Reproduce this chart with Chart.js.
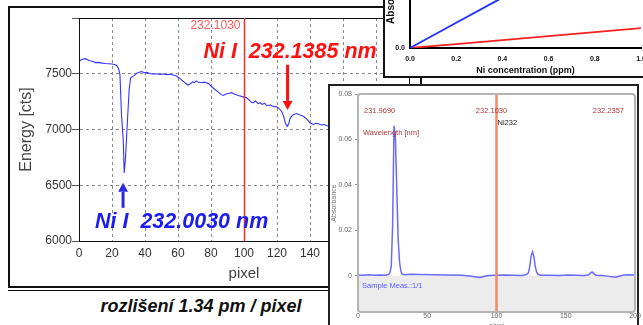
<!DOCTYPE html>
<html>
<head>
<meta charset="utf-8">
<script src="https://cdn.jsdelivr.net/npm/chart.js@4.4.1/dist/chart.umd.min.js"></script>
<style>
	body { margin: 0; width: 643px; height: 325px; overflow: hidden; position: relative; background: #fff; font-family: "Liberation Sans", Arial, sans-serif; }
	.box { position: absolute; box-sizing: border-box; }
	canvas { position: absolute; }
</style>
</head>
<body>
<div class="box" style="left:8px;top:6px;width:414px;height:282px;border:2px solid #111"></div>
<div class="box" style="left:8px;top:289.5px;width:414px;height:1.5px;background:#111"></div>
<canvas id="mainChart" width="420" height="280" style="left:9px;top:7px"></canvas>
<div style="position:absolute;left:0;top:297px;width:402px;text-align:center;font:italic bold 18px/18px 'Liberation Sans',Arial,sans-serif;color:#111">rozlišení 1.34 pm / pixel</div>
<div class="box" style="left:383px;top:-120px;width:270px;height:198px;background:#fff;border-left:2px solid #111;border-bottom:2px solid #111">
	<canvas id="calChart" width="268" height="196" style="left:0;top:0"></canvas>
</div>
<div class="box" style="left:328px;top:84px;width:311px;height:260px;background:#fff;border:2px solid #222">
	<canvas id="absChart" width="318" height="250" style="left:0;top:0"></canvas>
</div>
<script>
Chart.defaults.font.family = '"Liberation Sans", Arial, sans-serif';
Chart.defaults.animation = false;

// main spectrum: energy vs detector pixel
const pixels = [0, 2, 4, 6, 8, 10, 12, 14, 16, 18, 20, 22, 23, 24, 24.8, 25.8, 26.8, 27.4, 28.2, 29.4, 30.4, 31.3,
	33.5, 35, 36.5, 38, 39.5, 41, 43, 45, 47, 49, 51, 53, 55, 57, 59, 61, 63, 65, 66, 67, 69, 70, 71, 72, 74, 76,
	78.4, 80, 82.4, 84, 86, 87.5, 89, 91, 92.5, 94, 96.6, 99, 101.6, 103, 104.5, 105.6, 107, 108.5, 109.7, 111,
	112.5, 113.7, 116, 118, 119.8, 121.5, 122.8, 124, 125, 126.2, 127, 128, 128.9, 130, 131.9, 134, 135.9, 138,
	140, 142, 143.5, 145, 147, 148.5, 150, 153, 156, 160, 165, 170, 180, 190, 200];
const energy = [7613, 7630, 7635, 7618, 7612, 7600, 7602, 7595, 7592, 7590, 7588, 7580, 7572, 7545, 7494, 7120, 6910, 6611, 6748, 7090, 7359, 7464,
	7485, 7505, 7514, 7520, 7509, 7512, 7502, 7496, 7500, 7494, 7498, 7492, 7496, 7488, 7479, 7460, 7434, 7410, 7398, 7405, 7428, 7420, 7436, 7426, 7419, 7425,
	7413, 7390, 7359, 7340, 7315, 7305, 7318, 7325, 7330, 7318, 7305, 7295, 7284, 7265, 7245, 7240, 7255, 7232, 7240, 7225,
	7236, 7215, 7220, 7205, 7204, 7185, 7164, 7120, 7060, 7029, 7050, 7100, 7119, 7135, 7143, 7130, 7119, 7095,
	7060, 7045, 7055, 7051, 7040, 7045, 7036, 7020, 7000, 6990, 6970, 6950, 6920, 6890, 6870];
const pixelTicks = [0, 20, 40, 60, 80, 100, 120, 140, 160, 180, 200];
const energyTicks = [6000, 6500, 7000, 7500, 8000];
const markerPixel = 100;
const markerLabel = "232.1030";

// calibration inset
const concentration = [0, 0.2, 0.4, 0.6, 0.8, 1.0];
const absorbanceNi = [0, 0.095, 0.19, 0.285, 0.38, 0.475];
const absorbanceBlank = [0, 0.015, 0.03, 0.045, 0.06, 0.075];
const concTicks = [0, 0.2, 0.4, 0.6, 0.8, 1.0];

// absorbance spectrum inset
const absPixels = [0, 4, 8, 12, 16, 20, 22, 23, 24, 25, 26, 27, 28, 29, 30, 31, 32, 34, 38, 45, 55, 65, 75, 82, 88, 94,
	100, 106, 112, 118, 121, 123, 124, 125, 126, 127, 128, 129, 130, 132, 138, 145, 152, 158, 163, 166, 167, 168,
	169, 170, 171, 172, 176, 180, 186, 191, 195, 200];
const absValues = [0.0003, 0.0002, 0.0004, 0.0002, 0.0003, 0.0002, 0.0005, 0.0012, 0.004, 0.022, 0.066, 0.061, 0.038, 0.016, 0.006, 0.0018, 0.0006, 0.0004, 0.0006, 0.0005, 0.0004, 0.0003, 0.0002, -0.0003, -0.0008, 0.0001,
	0.0002, 0.0003, 0.0002, 0.0001, 0.0004, 0.0012, 0.004, 0.0085, 0.0105, 0.0085, 0.004, 0.0015, 0.0006, 0.0002, 0.0002, 0.0001, 0.0003, 0.0002, 0.0001, 0.0003, 0.0006, 0.0012,
	0.0016, 0.0011, 0.0005, 0.0002, 0.0001, -0.0002, -0.0007, 0.0002, 0.0004, 0.0003];
const absPixelTicks = [0, 50, 100, 150, 200];
const absTicks = [0, 0.02, 0.04, 0.06, 0.08];
const wavelengthLabels = ["231.9690", "232.1030", "232.2357"];

function setTicks(list) {
	return (scale) => { scale.ticks = list.map((v) => ({ value: v })); };
}

function arrow(ctx, x, y0, y1, color) {
	const dir = Math.sign(y1 - y0);
	const head = 9;
	ctx.strokeStyle = color;
	ctx.fillStyle = color;
	ctx.lineWidth = 3;
	ctx.beginPath();
	ctx.moveTo(x, y0);
	ctx.lineTo(x, y1 - dir * head);
	ctx.stroke();
	ctx.beginPath();
	ctx.moveTo(x - 5, y1 - dir * head);
	ctx.lineTo(x + 5, y1 - dir * head);
	ctx.lineTo(x, y1);
	ctx.closePath();
	ctx.fill();
}

const mainDeco = {
	id: "mainDeco",
	afterDatasetsDraw(chart) {
		const { ctx, chartArea: a, scales: { x, y } } = chart;
		ctx.save();
		ctx.strokeStyle = "#111";
		ctx.lineWidth = 1;
		ctx.strokeRect(a.left + 0.5, a.top + 0.5, a.right - a.left, a.bottom - a.top);

		const xr = Math.round(x.getPixelForValue(markerPixel)) + 0.5;
		ctx.strokeStyle = "#ff2a2a";
		ctx.lineWidth = 1.5;
		ctx.beginPath();
		ctx.moveTo(xr, a.top);
		ctx.lineTo(xr, a.bottom);
		ctx.stroke();
		ctx.fillStyle = "#ff5a5a";
		ctx.font = '12px "Liberation Sans", Arial, sans-serif';
		ctx.textAlign = "right";
		ctx.fillText(markerLabel, xr - 4, a.top + 11);

		ctx.textAlign = "left";
		ctx.font = 'italic bold 21.5px "Liberation Sans", Arial, sans-serif';
		ctx.fillStyle = "#ff1010";
		ctx.fillText("Ni I  232.1385 nm", x.getPixelForValue(75.4), y.getPixelForValue(7644));
		arrow(ctx, x.getPixelForValue(126.4), y.getPixelForValue(7581), y.getPixelForValue(7176), "#ff1010");

		ctx.fillStyle = "#1c1cf0";
		ctx.fillText("Ni I  232.0030 nm", x.getPixelForValue(9.7), y.getPixelForValue(6120));
		arrow(ctx, x.getPixelForValue(26.7), y.getPixelForValue(6297), y.getPixelForValue(6522), "#2a2ae0");
		ctx.restore();
	},
};

new Chart(document.getElementById("mainChart"), {
	type: "line",
	data: {
		datasets: [
			{
				data: pixels.map((p, i) => ({ x: p, y: energy[i] })),
				borderColor: "#3434ff",
				borderWidth: 1.1,
				pointRadius: 0,
				tension: 0,
			},
		],
	},
	options: {
		responsive: false,
		events: [],
		layout: { padding: { top: 11, right: 20, left: 0, bottom: 0 } },
		plugins: { legend: { display: false }, tooltip: { enabled: false } },
		scales: {
			x: {
				type: "linear",
				min: 0,
				max: 200,
				afterBuildTicks: setTicks(pixelTicks),
				afterFit: (s) => { s.height = 46; },
				ticks: { color: "#333", font: { size: 12 }, padding: 5, autoSkip: false, maxRotation: 0 },
				grid: { color: "#8a8a8a", drawTicks: false },
				border: { color: "#111", dash: [3, 3] },
				title: { display: true, text: "pixel", color: "#444", font: { size: 15 }, padding: { top: 0, bottom: 4 } },
			},
			y: {
				type: "linear",
				min: 6000,
				max: 8000,
				afterBuildTicks: setTicks(energyTicks),
				afterFit: (s) => { s.width = 70; },
				ticks: {
					color: "#333",
					font: { size: 12 },
					padding: 0,
					callback: (v) => (v === 8000 ? "" : v),
				},
				grid: { color: "#8a8a8a", tickLength: 7, tickColor: "#555" },
				border: { color: "#111", dash: [3, 3] },
				title: { display: true, text: "Energy [cts]", color: "#444", font: { size: 16 }, padding: { top: 8, bottom: 0 } },
			},
		},
	},
	plugins: [mainDeco],
});

new Chart(document.getElementById("calChart"), {
	type: "line",
	data: {
		datasets: [
			{
				data: concentration.map((c, i) => ({ x: c, y: absorbanceNi[i] })),
				borderColor: "#1f2fff",
				borderWidth: 1.8,
				pointRadius: 0,
			},
			{
				data: concentration.map((c, i) => ({ x: c, y: absorbanceBlank[i] })),
				borderColor: "#ff2020",
				borderWidth: 1.8,
				pointRadius: 0,
			},
		],
	},
	options: {
		responsive: false,
		events: [],
		layout: { padding: { top: 62, right: 12, left: 0, bottom: 0 } },
		plugins: { legend: { display: false }, tooltip: { enabled: false } },
		scales: {
			x: {
				type: "linear",
				min: 0,
				max: 1,
				afterBuildTicks: setTicks(concTicks),
				afterFit: (s) => { s.height = 28; },
				ticks: { color: "#111", font: { size: 7, weight: "bold" }, padding: 7, autoSkip: false, maxRotation: 0, callback: (v) => v.toFixed(1) },
				grid: { drawOnChartArea: false, drawTicks: false },
				border: { color: "#000", width: 2 },
				title: { display: true, text: "Ni concentration (ppm)", color: "#111", font: { size: 9, weight: "bold" }, padding: { top: 0, bottom: 0 } },
			},
			y: {
				type: "linear",
				min: 0,
				max: 0.4,
				afterBuildTicks: setTicks([0, 0.2, 0.4]),
				afterFit: (s) => { s.width = 25; },
				ticks: { color: "#111", font: { size: 7, weight: "bold" }, padding: 5, callback: (v) => v.toFixed(1) },
				grid: { drawOnChartArea: false, drawTicks: false },
				border: { color: "#000", width: 2 },
				title: { display: true, text: "Absorbance", color: "#111", font: { size: 10, weight: "bold" }, padding: { top: 0, bottom: 0 } },
			},
		},
	},
});

const absDeco = {
	id: "absDeco",
	beforeDatasetsDraw(chart) {
		const { ctx, chartArea: a, scales: { y } } = chart;
		const y0 = y.getPixelForValue(0);
		ctx.save();
		ctx.fillStyle = "#ececec";
		ctx.fillRect(a.left, y0, a.right - a.left, a.bottom - y0);
		ctx.restore();
	},
	afterDatasetsDraw(chart) {
		const { ctx, chartArea: a, scales: { x } } = chart;
		const xo = x.getPixelForValue(markerPixel);
		ctx.save();
		ctx.strokeStyle = "#f5896a";
		ctx.lineWidth = 2.5;
		ctx.beginPath();
		ctx.moveTo(xo, a.top);
		ctx.lineTo(xo, a.bottom);
		ctx.stroke();

		ctx.strokeStyle = "#b4b4b4";
		ctx.lineWidth = 2;
		ctx.beginPath();
		ctx.roundRect(a.left, a.top, a.right - a.left, a.bottom - a.top, 3);
		ctx.stroke();

		ctx.font = '7.5px "Liberation Sans", Arial, sans-serif';
		ctx.fillStyle = "#b03a3a";
		ctx.textAlign = "left";
		ctx.fillText(wavelengthLabels[0], a.left + 6, a.top + 19);
		ctx.textAlign = "center";
		ctx.fillText(wavelengthLabels[1], xo - 5, a.top + 19);
		ctx.textAlign = "right";
		ctx.fillText(wavelengthLabels[2], a.right - 11, a.top + 19);
		ctx.textAlign = "left";
		ctx.fillText("Wavelength [nm]", a.left + 5, a.top + 40.5);
		ctx.fillStyle = "#222";
		ctx.fillText("Ni232", xo + 1, a.top + 31);
		ctx.fillStyle = "#5a5aff";
		ctx.fillText("Sample Meas.:1/1", a.left + 4, a.top + 194);
		ctx.restore();
	},
};

new Chart(document.getElementById("absChart"), {
	type: "line",
	data: {
		datasets: [
			{
				data: absPixels.map((p, i) => ({ x: p, y: absValues[i] })),
				borderColor: "rgba(80, 80, 255, 0.85)",
				borderWidth: 1.5,
				pointRadius: 0,
				tension: 0,
			},
		],
	},
	options: {
		responsive: false,
		events: [],
		layout: { padding: { top: 8, right: 13, left: 0, bottom: 0 } },
		plugins: { legend: { display: false }, tooltip: { enabled: false } },
		scales: {
			x: {
				type: "linear",
				min: 0,
				max: 200,
				afterBuildTicks: setTicks(absPixelTicks),
				afterFit: (s) => { s.height = 24; },
				ticks: { color: "#666", font: { size: 7 }, padding: 0, autoSkip: false, maxRotation: 0 },
				grid: { display: false, drawTicks: false },
				border: { display: false },
				title: { display: true, text: "pixel", color: "#777", font: { size: 7 }, padding: { top: 0, bottom: 5.8 } },
			},
			y: {
				type: "linear",
				min: -0.016,
				max: 0.08,
				afterBuildTicks: setTicks(absTicks),
				afterFit: (s) => { s.width = 28; },
				ticks: { color: "#666", font: { size: 7 }, padding: 3, callback: (v) => (v === 0 ? "0" : v.toFixed(2)) },
				grid: { drawOnChartArea: false, tickLength: 3, tickColor: "#999" },
				border: { display: false },
				title: { display: true, text: "Absorbance", color: "#777", font: { size: 7 }, padding: { top: 0, bottom: 0 } },
			},
		},
	},
	plugins: [absDeco],
});
</script>
</body>
</html>
